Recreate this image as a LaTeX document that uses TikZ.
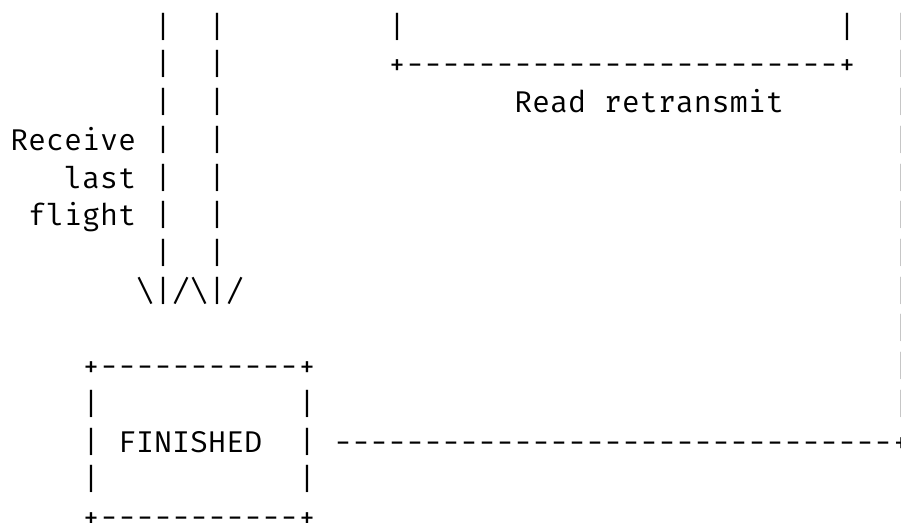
\documentclass[tikz,border=0pt]{standalone}
\usepackage{fontspec}
\newfontfamily\asciifont{Fira Mono}[Ligatures=TeXOff]
\begin{document}
\begin{tikzpicture}[x=18bp,y=-37.7bp,
	ascii/.style={anchor=base west, inner sep=0pt, outer sep=0pt,
		font=\asciifont\fontsize{30bp}{36bp}\selectfont},
	edge/.style={ascii, xshift=0.5bp}]
\useasboundingbox (-10/18,-37.3/37.7) rectangle (49.5,485.7/37.7);
\clip (-10/18,-37.3/37.7) rectangle (49.5,485.7/37.7);
% the two lines down into FINISHED
\foreach \r in {0,...,6}{
	\node[ascii] (a\r) at (8,\r) {|};
	\node[ascii] (b\r) at (11,\r) {|};
}
\node[ascii] (arrows) at (7,7) {\textbackslash|/\textbackslash|/};
\node[ascii] (recv) at (0,3) {Receive};
\node[ascii] (last) at (3,4) {last};
\node[ascii] (flight) at (1,5) {flight};
% lower edge of the box above
\node[ascii] (c0) at (21,0) {|};
\node[ascii] (d0) at (46,0) {|};
\node[ascii] (rbot) at (21,1) {+------------------------+};
\node[ascii] (rlabel) at (28,2) {Read retransmit};
% line at the right edge, cut by the border
\foreach \r in {0,...,10}
	\node[edge, text=black!35] (e\r) at (49,\r) {|};
\node[edge] (ecorner) at (49,11) {+};
% FINISHED
\node[ascii] (ftop) at (4,9) {+-----------+};
\node[ascii] (fl1) at (4,10) {|};
\node[ascii] (fr1) at (16,10) {|};
\node[ascii] (fl2) at (4,11) {|};
\node[ascii] (fin) at (6,11) {FINISHED};
\node[ascii] (fr2) at (16,11) {|};
\node[ascii] (fl3) at (4,12) {|};
\node[ascii] (fr3) at (16,12) {|};
\node[ascii] (fbot) at (4,13) {+-----------+};
\node[ascii] (back) at (18,11) {-------------------------------};
\end{tikzpicture}
\end{document}
